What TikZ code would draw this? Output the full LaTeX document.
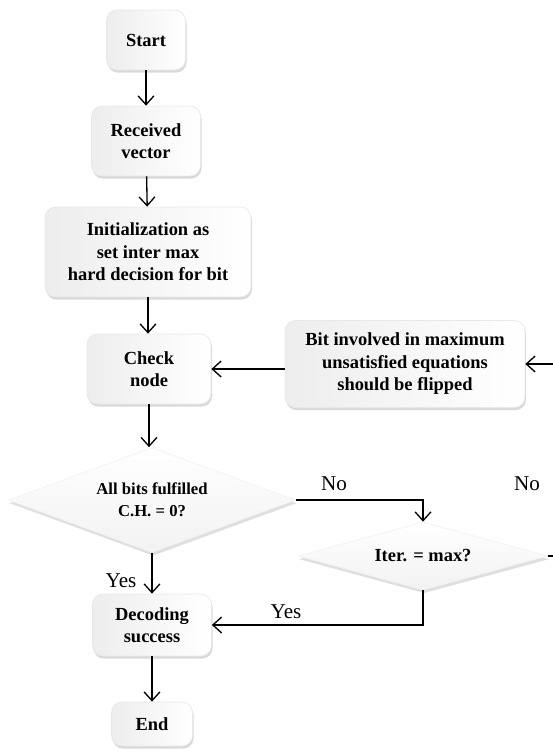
\documentclass[tikz,border=0pt]{standalone}
\usepackage{fontspec}
\setmainfont{Liberation Serif}
\usepackage{tikz}
\usetikzlibrary{arrows.meta, shapes.geometric, shadows}

\tikzset{
  stepbox/.style={rounded corners=6pt, draw=gray!18, left color=gray!14, middle color=white, right color=white,
    align=center, inner sep=0pt, font=\bfseries\fontsize{10.5}{12.8}\selectfont,
    drop shadow={opacity=0.3, shadow xshift=0.6pt, shadow yshift=-1.5pt}},
  testbox/.style={diamond, draw=gray!10, top color=white, bottom color=gray!10,
    align=center, inner sep=0pt,
    drop shadow={opacity=0.25, shadow xshift=0.6pt, shadow yshift=-1.8pt}},
  flow/.style={line width=0.75pt, -{Straight Barb[length=5pt,width=9pt]}},
  branch/.style={font=\fontsize{12}{14}\selectfont, inner sep=0pt}
}

\begin{document}
\begin{tikzpicture}[x=0.02cm, y=-0.02cm]
    \useasboundingbox (0,0) rectangle (553,751);
    \clip (0,0) rectangle (553,751);

    % Main column
    \node[stepbox, minimum width=1.58cm, minimum height=1.2cm] (start) at (146,40) {Start};
    \node[stepbox, minimum width=2.18cm, minimum height=1.4cm] (recv) at (146,141) {Received\\vector};
    \node[stepbox, minimum width=4.12cm, minimum height=1.8cm] (init) at (148,252) {Initialization as\\set inter max\\hard decision for bit};
    \node[stepbox, minimum width=2.48cm, minimum height=1.4cm] (check) at (149,369) {Check\\node};
    \node[testbox, aspect=2.7, minimum width=5.74cm, minimum height=2.1cm,
          font=\bfseries\fontsize{9.5}{12.5}\selectfont] (allbits) at (152,500) {All bits fulfilled\\C.H. = 0?};
    \node[stepbox, minimum width=2.38cm, minimum height=1.24cm] (success) at (152,625) {Decoding\\success};
    \node[stepbox, minimum width=1.62cm, minimum height=0.88cm] (end) at (152,724) {End};

    % Flip branch
    \node[stepbox, minimum width=4.8cm, minimum height=1.74cm] (flip) at (405,364) {Bit involved in maximum\\unsatisfied equations\\should be flipped};
    \node[testbox, aspect=3.7, minimum width=5.0cm, minimum height=1.36cm,
          font=\bfseries\fontsize{10.5}{12.5}\selectfont] (iter) at (423,556) {Iter. = max?};

    % Connectors
    \draw[flow] (start) -- (recv);
    \draw[flow] (recv) -- (init);
    \draw[flow] (init.south) -- (init.south |- check.north);
    \draw[flow] (check.south) -- (check.south |- allbits.north);
    \draw[flow] (allbits.south) -- (allbits.south |- success.north);
    \draw[flow] (success) -- (end);
    \draw[flow] (flip.west |- check.east) -- (check.east);
    \draw[flow] (allbits.east) -| (iter.north);
    \draw[flow] (iter.south) |- (success.east);
    \draw[flow] (iter.east) -- ++(30,0) |- (flip.east);

    % Branch labels
    \node[branch] (noa) at (334,484) {No};
    \node[branch] (nob) at (527,484) {No};
    \node[branch] (yesa) at (121,581) {Yes};
    \node[branch] (yesb) at (286,612) {Yes};
\end{tikzpicture}
\end{document}
